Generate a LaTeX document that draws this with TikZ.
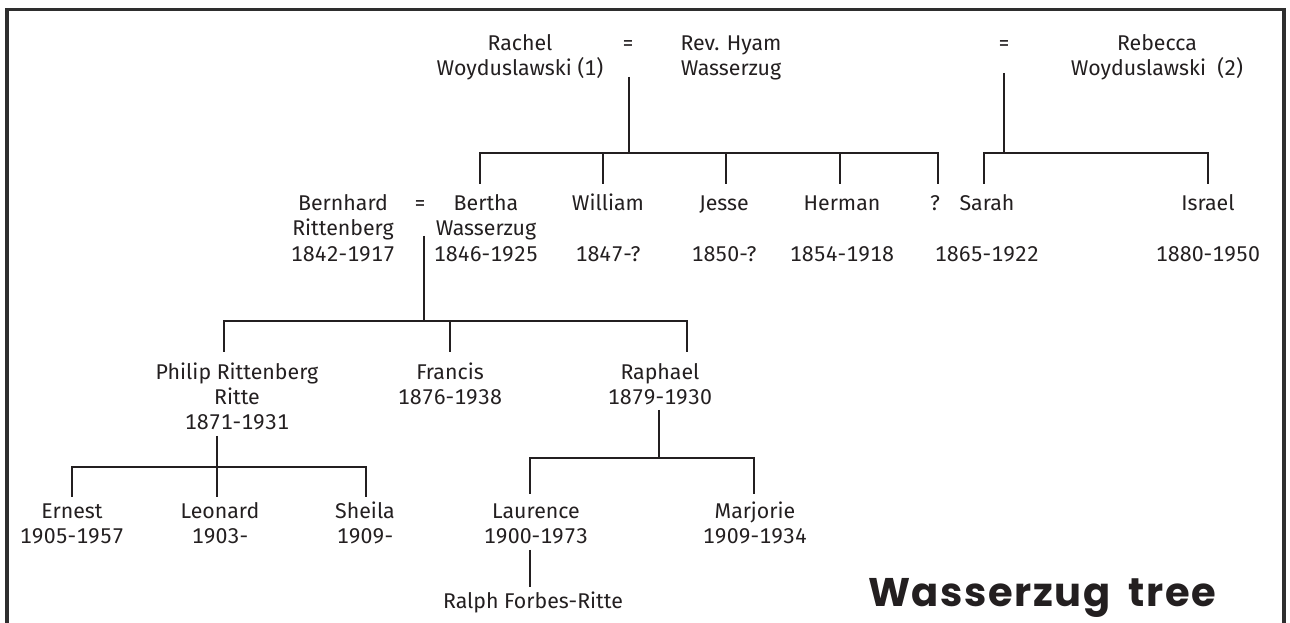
\documentclass[tikz,border=0pt]{standalone}
\usepackage{fontspec}
\setmainfont{Fira Sans}[Numbers={Monospaced,Lining}]
\newfontfamily\titlefont{Poppins}[LetterSpace=4]
\definecolor{ink}{HTML}{231F20}
\definecolor{framec}{HTML}{2E2E2E}
\newcommand\st{\rule{0pt}{16pt}}
\tikzset{
  person/.style={align=center, anchor=north, inner sep=0pt, text=ink,
    font=\fontsize{16pt}{19pt}\selectfont},
  link/.style={draw=ink, line width=2pt},
  frameline/.style={draw=framec, line width=2.4pt, line join=miter},
  titlestyle/.style={anchor=base, inner sep=0pt, text=ink,
    font=\titlefont\bfseries\fontsize{30pt}{33pt}\selectfont}
}
\begin{document}
\begin{tikzpicture}[x=0.75pt, y=-0.75pt]
\useasboundingbox (0,0) rectangle (1290,623);
% frame
\draw[frameline] (7,623) -- (7,9.5) -- (1284,9.5) -- (1284,623);

% generation 1
\node[person] (rachel)  at (520,28.7)  {\st Rachel\\Woyduslawski (1)};
\node[person] (eqA)     at (628,28.7)  {\st =};
\node[person] (hyam)    at (731,28.7)  {\st Rev. Hyam\\Wasserzug};
\node[person] (eqB)     at (1004,28.7) {\st =};
\node[person] (rebecca) at (1157,28.7) {\st Rebecca\\Woyduslawski\ \ (2)};

% generation 2
\node[person] (bernhard) at (343,189) {\st Bernhard\\Rittenberg\\1842-1917};
\node[person] (eqC)      at (420,189) {\st =};
\node[person] (bertha)   at (486,189) {\st Bertha\\Wasserzug\\1846-1925};
\node[person] (william)  at (608,189) {\st William\\\mbox{}\\1847-?};
\node[person] (jesse)    at (724,189) {\st Jesse\\\mbox{}\\1850-?};
\node[person] (herman)   at (842,189) {\st Herman\\\mbox{}\\1854-1918};
\node[person] (qm)       at (935,189) {\st ?};
\node[person] (sarah)    at (987,189) {\st Sarah\\\mbox{}\\1865-1922};
\node[person] (israel)   at (1208,189) {\st Israel\\\mbox{}\\1880-1950};

% generation 3
\node[person] (philip)  at (237,357.7) {\st Philip Rittenberg\\Ritte\\1871-1931};
\node[person] (francis) at (450,357.7) {\st Francis\\1876-1938};
\node[person] (raphael) at (660,357.7) {\st Raphael\\1879-1930};

% generation 4
\node[person] (ernest)   at (72,496.7)  {\st Ernest\\1905-1957};
\node[person] (leonard)  at (220,496.7) {\st Leonard\\1903-};
\node[person] (sheila)   at (365,496.7) {\st Sheila\\1909-};
\node[person] (laurence) at (536,496.7) {\st Laurence\\1900-1973};
\node[person] (marjorie) at (755,496.7) {\st Marjorie\\1909-1934};

% generation 5
\node[person] (ralph) at (533,586.7) {\st Ralph Forbes-Ritte};

% title
\node[titlestyle] (title) at (1042,607) {Wasserzug\hspace{6pt} tree};

% connector coordinates
\coordinate (m1) at (629,77);   \coordinate (j1) at (629,153);
\coordinate (m2) at (1004,73);  \coordinate (j2) at (1004,153);
\coordinate (m3) at (424,236);  \coordinate (j3) at (424,321);
\coordinate (m4) at (217,436);  \coordinate (j4) at (217,467);
\coordinate (m5) at (659,410);  \coordinate (j5) at (659,458);
\coordinate (m6) at (530,550);

\coordinate (d-bertha)  at (480,184);
\coordinate (d-william) at (603,184);
\coordinate (d-jesse)   at (726,184);
\coordinate (d-herman)  at (840,184);
\coordinate (d-qm)      at (938,184);
\coordinate (d-sarah)   at (984,184);
\coordinate (d-israel)  at (1208,184);
\coordinate (d-philip)  at (224,352);
\coordinate (d-francis) at (450,352);
\coordinate (d-raphael) at (687,352);
\coordinate (d-ernest)  at (72,497);
\coordinate (d-leonard) at (217,497);
\coordinate (d-sheila)  at (366,497);
\coordinate (d-laurence) at (530,494);
\coordinate (d-marjorie) at (754,494);
\coordinate (d-ralph)   at (530,587);

% connectors
\draw[link] (m1) -- (j1);
\foreach \c in {bertha,william,jesse,herman,qm} \draw[link] (j1) -| (d-\c);
\draw[link] (m2) -- (j2);
\foreach \c in {sarah,israel} \draw[link] (j2) -| (d-\c);
\draw[link] (m3) -- (j3);
\foreach \c in {philip,francis,raphael} \draw[link] (j3) -| (d-\c);
\draw[link] (m4) -- (j4);
\foreach \c in {ernest,leonard,sheila} \draw[link] (j4) -| (d-\c);
\draw[link] (m5) -- (j5);
\foreach \c in {laurence,marjorie} \draw[link] (j5) -| (d-\c);
\draw[link] (m6) -- (d-ralph);
\end{tikzpicture}
\end{document}
